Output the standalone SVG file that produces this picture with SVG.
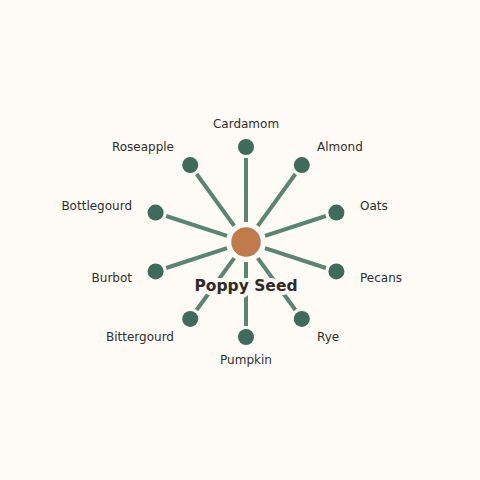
<svg xmlns="http://www.w3.org/2000/svg" width="480" height="480" viewBox="0 0 480 480">
<style>
.edge{stroke:#5a8473;stroke-width:4;stroke-linecap:butt}
.leaf{fill:#3e6b5b}
.lbl{font-family:"DejaVu Sans",sans-serif;font-size:12px;fill:#2f2f2f}
.hub{fill:#c17b4b;stroke:#ffffff;stroke-width:2.5}
.title{font-family:"DejaVu Sans",sans-serif;font-size:15.5px;font-weight:bold;fill:#2e2a26;stroke:#fefaf6;stroke-width:8;stroke-linejoin:round;paint-order:stroke}
</style>
<rect width="480" height="480" fill="#fefaf6"/>
<g id="connectors">
<line class="edge" x1="246" y1="222" x2="246" y2="158"/>
<line class="edge" x1="257.8" y1="225.8" x2="295.4" y2="174"/>
<line class="edge" x1="265" y1="235.8" x2="325.9" y2="216"/>
<line class="edge" x1="265" y1="248.2" x2="325.9" y2="268"/>
<line class="edge" x1="257.8" y1="258.2" x2="295.4" y2="310"/>
<line class="edge" x1="246" y1="262" x2="246" y2="326"/>
<line class="edge" x1="234.2" y1="258.2" x2="196.6" y2="310"/>
<line class="edge" x1="227" y1="248.2" x2="166.1" y2="268"/>
<line class="edge" x1="227" y1="235.8" x2="166.1" y2="216"/>
<line class="edge" x1="234.2" y1="225.8" x2="196.6" y2="174"/>
</g>
<g id="cardamom"><circle class="leaf" cx="246" cy="147" r="8"/><text class="lbl" x="246" y="128" text-anchor="middle">Cardamom</text></g>
<g id="almond"><circle class="leaf" cx="301.8" cy="165.1" r="8"/><text class="lbl" x="317" y="151">Almond</text></g>
<g id="oats"><circle class="leaf" cx="336.4" cy="212.6" r="8"/><text class="lbl" x="360" y="210">Oats</text></g>
<g id="pecans"><circle class="leaf" cx="336.4" cy="271.4" r="8"/><text class="lbl" x="360" y="282">Pecans</text></g>
<g id="rye"><circle class="leaf" cx="301.8" cy="318.9" r="8"/><text class="lbl" x="317" y="341">Rye</text></g>
<g id="pumpkin"><circle class="leaf" cx="246" cy="337" r="8"/><text class="lbl" x="246" y="364" text-anchor="middle">Pumpkin</text></g>
<g id="bittergourd"><circle class="leaf" cx="190.2" cy="318.9" r="8"/><text class="lbl" x="174" y="341" text-anchor="end">Bittergourd</text></g>
<g id="burbot"><circle class="leaf" cx="155.6" cy="271.4" r="8"/><text class="lbl" x="132" y="282" text-anchor="end">Burbot</text></g>
<g id="bottlegourd"><circle class="leaf" cx="155.6" cy="212.6" r="8"/><text class="lbl" x="132" y="210" text-anchor="end">Bottlegourd</text></g>
<g id="roseapple"><circle class="leaf" cx="190.2" cy="165.1" r="8"/><text class="lbl" x="174" y="151" text-anchor="end">Roseapple</text></g>
<g id="poppy-seed"><circle class="hub" cx="246" cy="242" r="16"/><text class="title" x="246" y="291" text-anchor="middle">Poppy Seed</text></g>
</svg>
